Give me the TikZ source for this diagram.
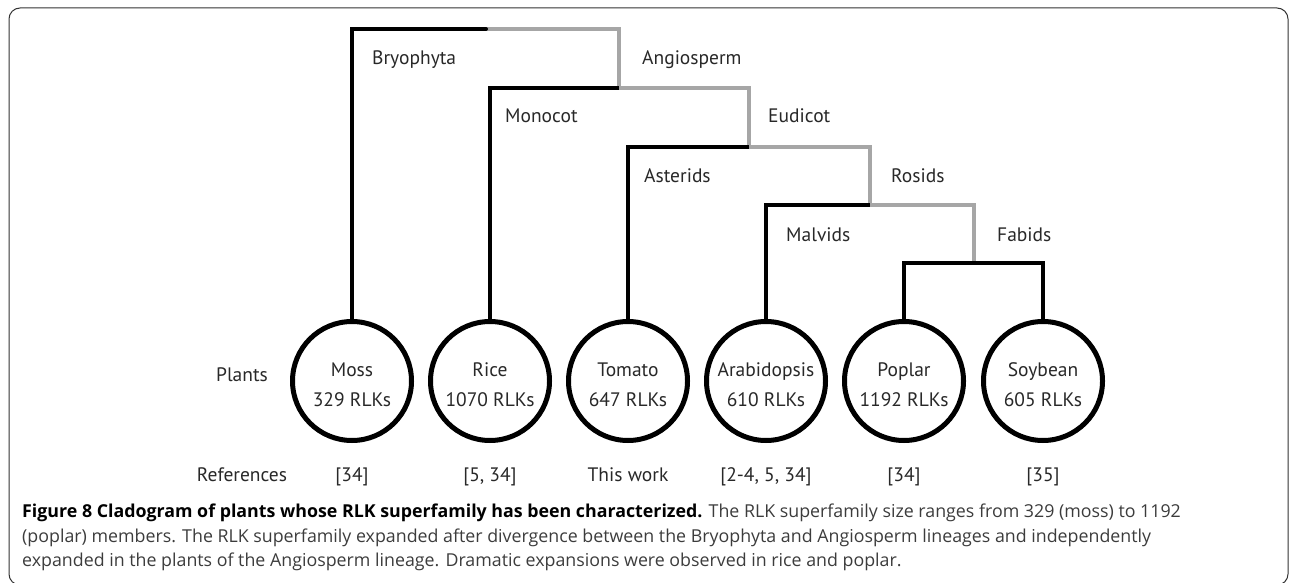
\documentclass[tikz,border=0pt]{standalone}
\usepackage{fontspec}
\setmainfont{PT Sans}
\newfontfamily\captionfont{Open Sans}
\usetikzlibrary{positioning}

\definecolor{cladegrey}{RGB}{166,166,166}
\definecolor{labelgrey}{RGB}{40,40,40}
\definecolor{textgrey}{RGB}{60,60,60}

\tikzset{
  lineage/.style={line width=4pt, black},
  angioline/.style={line width=4pt, cladegrey},
  plant/.style={circle, draw, line width=5pt, minimum size=119pt, inner sep=0pt},
  clade/.style={anchor=base west, inner sep=0pt, text=labelgrey, font=\fontsize{19.5}{22}\selectfont},
  entry/.style={anchor=base, inner sep=0pt, text=labelgrey, font=\fontsize{19.5}{22}\selectfont},
  captionline/.style={anchor=base west, inner sep=0pt, text=textgrey, font=\captionfont\fontsize{17.8}{20}\selectfont},
  frame/.style={draw=black!80, line width=1pt, rounded corners=11pt},
}

\begin{document}
\begin{tikzpicture}[x=1pt, y=-1pt]
  \useasboundingbox (0,0) rectangle (1290,583);

  % Frame round the figure
  \draw[frame] (9,8) rectangle (1288,585);

  % Split points of the tree
  \coordinate (root) at (486,29);
  \coordinate (angio) at (619,88);
  \coordinate (eudicot) at (749,147);
  \coordinate (rosid) at (870,205);
  \coordinate (fabid) at (974,263);

  % Plants, their RLK counts and references
  \foreach \pname/\x/\plant/\rlk/\refs in {moss/352/Moss/329/{[34]},
      rice/490/Rice/1070/{[5, 34]}, tomato/628/Tomato/647/{This work},
      arabidopsis/766/Arabidopsis/610/{[2-4, 5, 34]},
      poplar/904/Poplar/1192/{[34]}, soybean/1043/Soybean/605/{[35]}} {
    \node[plant] (\pname) at (\x,381) {};
    \node[entry] (\pname-name) at (\x,376) {\plant};
    \node[entry] (\pname-rlk) at (\x,406) {\rlk\ RLKs};
    \node[entry] (\pname-ref) at (\x,481) {\refs};
  }

  % Row titles
  \node[entry] (plants) at (242,381) {Plants};
  \node[entry] (references) at (242,481) {References};

  % Angiosperm lineage
  \draw[angioline] (root) -| (angio) -| (eudicot) -| (rosid) -| (fabid);

  % Branches down to the plants
  \draw[lineage, line cap=round] (moss.north) |- (root);
  \draw[lineage] (rice.north) |- (angio);
  \draw[lineage] (tomato.north) |- (eudicot);
  \draw[lineage] (arabidopsis.north) |- (rosid);
  \draw[lineage] (poplar.north) |- (fabid) -| (soybean.north);

  % Clade names
  \node[clade] (bryophyta) at (372,65) {Bryophyta};
  \node[clade] (angiosperm) at (642,65) {Angiosperm};
  \node[clade] (monocot) at (505,123) {Monocot};
  \node[clade] (eudicots) at (768,123) {Eudicot};
  \node[clade] (asterids) at (644,182) {Asterids};
  \node[clade] (rosids) at (891,182) {Rosids};
  \node[clade] (malvids) at (786,241) {Malvids};
  \node[clade] (fabids) at (997,241) {Fabids};

  % Caption
  \node[captionline] (cap1) at (22,517) {\textcolor{black}{\bfseries Figure 8 Cladogram of plants whose RLK superfamily has been characterized.} The RLK superfamily size ranges from 329 (moss) to 1192};
  \node[captionline] (cap2) at (22,542) {(poplar) members. The RLK superfamily expanded after divergence between the Bryophyta and Angiosperm lineages and independently};
  \node[captionline] (cap3) at (22,566) {expanded in the plants of the Angiosperm lineage. Dramatic expansions were observed in rice and poplar.};
\end{tikzpicture}
\end{document}
